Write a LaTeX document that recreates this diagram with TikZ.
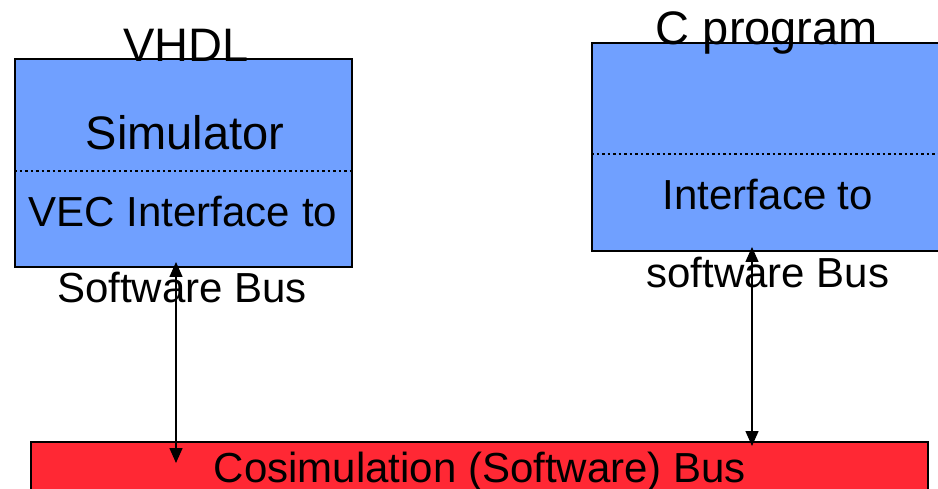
\documentclass[tikz,border=0pt]{standalone}
\usepackage{fontspec}
\setmainfont{Liberation Sans}
\usetikzlibrary{arrows.meta}

\definecolor{simblue}{RGB}{112,160,255}
\definecolor{busred}{RGB}{255,40,52}

\tikzset{
	box/.style={draw=black, line width=1.6pt, rectangle, inner sep=0pt},
	divider/.style={dash pattern=on 2.5pt off 3pt, line width=1.5pt},
	big/.style={anchor=base, inner sep=0pt, font=\fontsize{47}{50}\selectfont},
	small/.style={anchor=base, inner sep=0pt, font=\fontsize{42}{46}\selectfont},
	link/.style={{Triangle[length=15pt,width=13pt]}-{Triangle[length=15pt,width=13pt]}, line width=1.5pt}
}

\begin{document}
\begin{tikzpicture}[x=1pt, y=-1pt]
			
			\useasboundingbox (0,0) rectangle (938,489);
			
			\begin{scope}
				\node[box, fill=simblue, minimum width=337pt, minimum height=208pt] (vhdl) at (183.5,163) {};
				\draw[divider] (vhdl.west |- 0,171) -- (vhdl.east |- 0,171);
				\node[big] (vhdltitle) at (186,62) {VHDL};
				\node[big] (simtext) at (185,150) {Simulator};
				\node[small] (vecif) at (183,227) {VEC Interface to};
				\node[small] (vecbus) at (182,303) {Software Bus};
				
				\coordinate (vhdlend) at (176,262);
			\end{scope}
			
			\begin{scope}
				\node[box, fill=simblue, minimum width=353pt, minimum height=208pt] (cprog) at (768.5,147) {};
				\draw[divider] (cprog.west |- 0,154) -- (cprog.east |- 0,154);
				\node[big] (ctitle) at (767,45) {C program};
				\node[small] (cif) at (768,210) {Interface to};
				\node[small] (cbus) at (768,288) {software Bus};
				
				\coordinate (cend) at (752,247);
			\end{scope}
			
			\node[box, fill=busred, minimum width=897pt, minimum height=58pt] (bus) at (479.5,471) {};
			\node[small] (bustext) at (480,482) {Cosimulation (Software) Bus};
			\coordinate (busleft) at (176,463);
			\coordinate (busright) at (752,446);
			
			\draw[link] (vhdlend) -- (busleft);
			\draw[link] (cend) -- (busright);
		
		\end{tikzpicture}
\end{document}
